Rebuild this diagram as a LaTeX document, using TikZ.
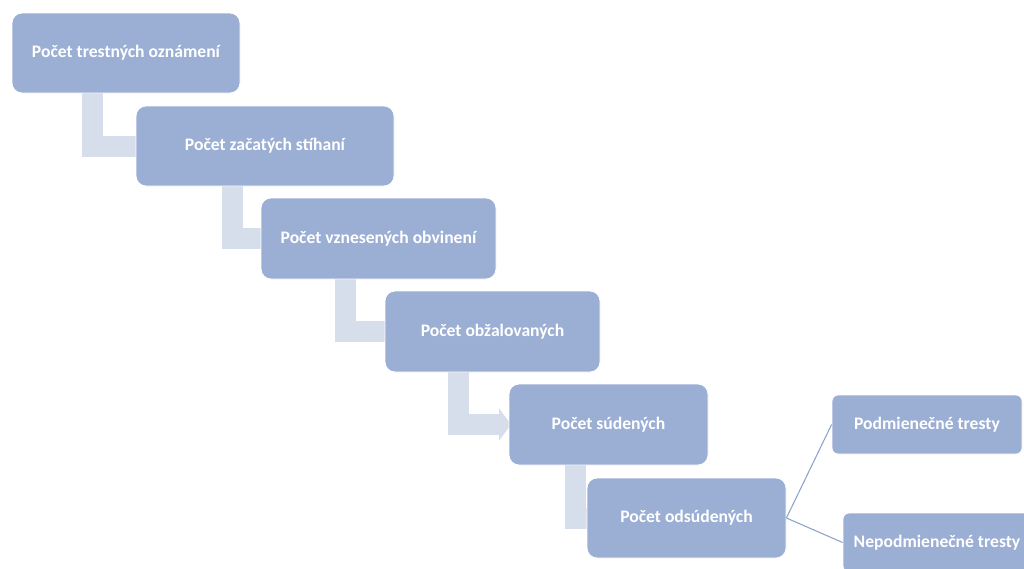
\documentclass[tikz,border=0pt]{standalone}
\usepackage{fontspec}
\setmainfont{Carlito}
\usetikzlibrary{arrows.meta}
\definecolor{boxfill}{HTML}{9BAED4}
\definecolor{conn}{HTML}{D6DEEC}
\definecolor{lnk}{HTML}{8DA2CD}
\tikzset{
  stepbox/.style={rectangle, rounded corners=7.5pt, fill=boxfill, draw=white, line width=0.6pt,
    text=white, font=\fontsize{13.2}{15}\selectfont\bfseries, inner sep=0pt, align=center},
  smallbox/.style={stepbox, rounded corners=4.5pt},
  bentarrow/.style={draw=conn, line width=15.75pt, line join=miter, line cap=butt,
    -{Triangle[width=24pt,length=9pt]}},
  lnkline/.style={draw=lnk, line width=0.8pt}
}
\begin{document}
\begin{tikzpicture}[x=0.75pt,y=-0.75pt]
\useasboundingbox (0,0) rectangle (1024,568);
\clip (0,0) rectangle (1024,568);
% connectors first (behind boxes)
\coordinate (c1a) at (92.5,93);  \coordinate (c1b) at (92.5,146);
\coordinate (c2a) at (232.5,186); \coordinate (c2b) at (232.5,238.5);
\coordinate (c3a) at (345,279); \coordinate (c3b) at (345,331.5);
\coordinate (c4a) at (458,372); \coordinate (c4b) at (458,424.5);
\coordinate (c5a) at (575,465); \coordinate (c5b) at (575,518);
\coordinate (e1) at (152,146);
\coordinate (e2) at (277,238.5);
\coordinate (e3) at (401,331.5);
\coordinate (e4) at (511,424.5);
\coordinate (e5) at (603,518);
\draw[bentarrow] (c1a) -- (c1b) -- (e1);
\draw[bentarrow] (c2a) -- (c2b) -- (e2);
\draw[bentarrow] (c3a) -- (c3b) -- (e3);
\draw[bentarrow] (c4a) -- (c4b) -- (e4);
\draw[bentarrow] (c5a) -- (c5b) -- (e5);
% boxes
\node[stepbox, minimum width=171pt, minimum height=60pt] (b1) at (126,53) {Počet trestných oznámení};
\node[stepbox, minimum width=193.5pt, minimum height=60pt] (b2) at (265,146) {Počet začatých stíhaní};
\node[stepbox, minimum width=176.25pt, minimum height=60.75pt] (b3) at (378.5,238.5) {Počet vznesených obvinení};
\node[stepbox, minimum width=161.25pt, minimum height=60.75pt] (b4) at (492.5,331.5) {Počet obžalovaných};
\node[stepbox, minimum width=149.25pt, minimum height=60.75pt] (b5) at (608.5,424.5) {Počet súdených};
\node[stepbox, minimum width=149.25pt, minimum height=60pt] (b6) at (686.5,518) {Počet odsúdených};
\node[smallbox, minimum width=142.5pt, minimum height=44.25pt] (b7) at (927,424.5) {Podmienečné tresty};
\node[smallbox, minimum width=141pt, minimum height=44.25pt] (b8) at (937,542.5) {Nepodmienečné tresty};
\draw[lnkline] (b6.east) -- (b7.west);
\draw[lnkline] (b6.east) -- (b8.west);
\end{tikzpicture}
\end{document}
